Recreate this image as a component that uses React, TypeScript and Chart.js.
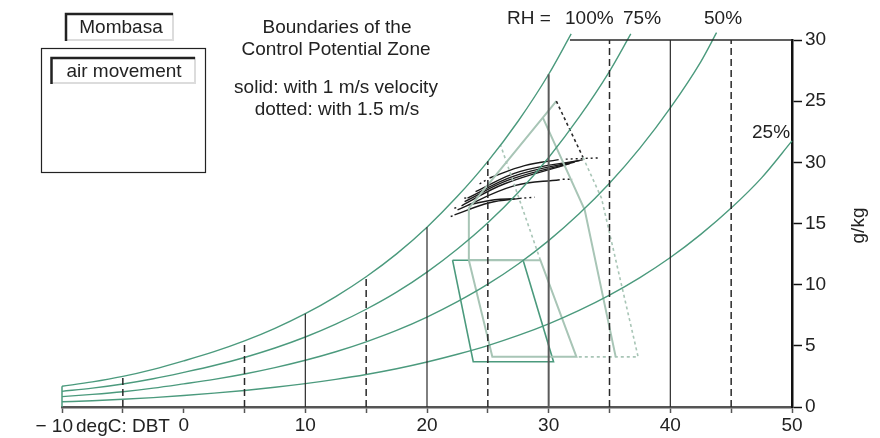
import React, { useEffect, useRef } from 'react';
import { Chart, registerables } from 'chart.js';

Chart.register(...registerables);

// ---------- data ----------
// Relative-humidity curves: [dry-bulb °C, moisture content g/kg]
const rh100 = [[-10, 1.7], [-7.5, 2.05], [-5, 2.5], [-2.5, 3.08], [0, 3.77], [2.5, 4.52], [5, 5.4], [7.5, 6.43], [10, 7.63], [12.5, 9.03], [15, 10.65], [17.5, 12.52], [20, 14.7], [22.5, 17.22], [25, 20.08], [27.5, 23.38], [30, 27.2], [31.85, 30.5]];
const rh75 = [[-10, 1.28], [-7.5, 1.54], [-5, 1.88], [-2.5, 2.31], [0, 2.83], [2.5, 3.39], [5, 4.05], [7.5, 4.82], [10, 5.72], [12.5, 6.77], [15, 7.99], [17.5, 9.39], [20, 11.03], [22.5, 12.92], [25, 15.06], [27.5, 17.54], [30, 20.4], [32.5, 23.69], [35, 27.44], [36.75, 30.5]];
const rh50 = [[-10, 0.85], [-7.5, 1.03], [-5, 1.25], [-2.5, 1.54], [0, 1.89], [2.5, 2.26], [5, 2.7], [7.5, 3.22], [10, 3.82], [12.5, 4.52], [15, 5.33], [17.5, 6.26], [20, 7.35], [22.5, 8.61], [25, 10.04], [27.5, 11.69], [30, 13.6], [32.5, 15.79], [35, 18.29], [37.5, 21.16], [40, 24.45], [42.5, 28.22], [43.8, 30.6]];
const rh25 = [[-10, 0.43], [-7.5, 0.51], [-5, 0.63], [-2.5, 0.77], [0, 0.94], [2.5, 1.13], [5, 1.35], [7.5, 1.61], [10, 1.91], [12.5, 2.26], [15, 2.66], [17.5, 3.13], [20, 3.68], [22.5, 4.31], [25, 5.02], [27.5, 5.85], [30, 6.8], [32.5, 7.9], [35, 9.15], [37.5, 10.58], [40, 12.22], [42.5, 14.11], [45, 16.26], [47.5, 18.73], [50, 21.75]];

// Dry-bulb grid lines and the moisture content where each one stops
const gridDbt = [-5, 5, 10, 15, 20, 25, 30, 35, 40, 45];
const gridTop = [2.5, 5.4, 7.63, 10.65, 14.7, 20.08, 27.2, 30, 30, 30];
const leftEdge = [[-10, 0], [-10, 1.7]];
const topBoundary = [[31.75, 30], [50, 30]];

// Zones
const stillAirZone = [[22.1, 12], [27.9, 12], [30.4, 3.7], [23.8, 3.7], [22.1, 12]];
const shiftedZone = [[23.44, 12], [29.32, 12], [32.28, 4.1], [25.37, 4.1], [23.44, 12]];
const zone1msLeft = [[23.44, 12], [23.44, 16.26], [30.63, 25.0]];
const zone1msRight = [[29.53, 23.64], [32.96, 16.12], [35.51, 4.1]];
const zone15msRight = [[32.82, 20.41], [34.34, 17.08], [37.35, 4.1], [32.28, 4.1]];
const zone15msLeft = [[29.32, 12], [26.05, 21.4]];
const zone15msTop = [[30.63, 25.0], [32.82, 20.41]];

// Mombasa monthly daily climate lines
const monthLines = [
  [[25.14, 18.72], [28.02, 19.73], [30.82, 20.22]],
  [[23.99, 17.6], [27.61, 19.24], [32.8, 20.2]],
  [[23.33, 17.08], [27.2, 18.9], [32.55, 20.14]],
  [[23.09, 16.78], [26.79, 18.58], [32.14, 20.02]],
  [[22.84, 16.45], [26.38, 18.25], [31.73, 19.89]],
  [[22.51, 16.12], [27.2, 18.09], [30.91, 18.58]],
  [[22.26, 15.71], [25.14, 16.7], [27.78, 17.07]],
  [[23.42, 16.53], [25.55, 16.94], [27.2, 17.02]],
];
const monthDots = [
  [[31.4, 20.26], [34.03, 20.36]],
  [[24.32, 18.23], [24.95, 18.6]],
  [[31.15, 18.62], [31.98, 18.62]],
  [[28.0, 17.08], [28.85, 17.15]],
  [[21.95, 15.57], [22.3, 15.7]],
  [[22.24, 16.26], [22.6, 16.31]],
  [[23.06, 17.08], [23.33, 17.08]],
];

// Text
const xTickValues = [-10, -5, 0, 5, 10, 15, 20, 25, 30, 35, 40, 45, 50];
const yTickLabels = ['0', '5', '10', '15', '30', '25', '30'];
const titleLines = ['Boundaries of the', 'Control Potential Zone'];
const noteLines = ['solid: with 1 m/s velocity', 'dotted: with 1.5 m/s'];
const rhLabels = ['RH =', '100%', '75%', '50%', '25%'];
const cityLabel = 'Mombasa';
const legendLabel = 'air movement';
const xUnitLabel = 'degC: DBT';
const yUnitLabel = 'g/kg';

// ---------- styling ----------
const FONT = '"Liberation Sans", Arial, Helvetica, sans-serif';
const TEAL = '#4b9a7d';
const LIGHT = '#a8c5b6';
const DARK = '#2a2a2a';

const toXY = (pts: number[][]) => pts.map(([x, y]) => ({ x, y }));
function line(pts: number[][], color: string, width: number, dash: number[] = [], extra: any = {}) {
  return {
    data: toXY(pts),
    showLine: true,
    borderColor: color,
    backgroundColor: color,
    borderWidth: width,
    borderDash: dash,
    pointRadius: 0,
    pointHoverRadius: 0,
    fill: false,
    tension: 0,
    clip: false,
    ...extra,
  };
}

function buildDatasets() {
  const ds: any[] = [];
  gridDbt.forEach((t, i) => {
    const solid = t % 10 === 0;
    const color = t === 30 ? '#5a5a5a' : DARK;
    const w = t === 30 ? 2 : solid ? 1.2 : 1.5;
    ds.push(line([[t, 0], [t, gridTop[i]]], color, w, solid ? [] : [7, 4]));
  });
  ds.push(line(topBoundary, DARK, 1.5));
  ds.push(line(leftEdge, TEAL, 1.5));
  [rh100, rh75, rh50, rh25].forEach((c) => ds.push(line(c, TEAL, 1.4, [], { cubicInterpolationMode: 'monotone' })));
  ds.push(line(zone15msRight, LIGHT, 1.6, [3, 3]));
  ds.push(line(zone15msLeft, LIGHT, 1.6, [3, 3]));
  ds.push(line(zone15msTop, DARK, 1.6, [3, 3]));
  ds.push(line(zone1msLeft, LIGHT, 2));
  ds.push(line(zone1msRight, LIGHT, 2));
  ds.push(line(shiftedZone, LIGHT, 2));
  ds.push(line(stillAirZone, TEAL, 1.6));
  monthLines.forEach((m) => ds.push(line(m, '#1a1a1a', 1.4, [], { tension: 0.4 })));
  monthDots.forEach((m) => ds.push(line(m, '#1a1a1a', 1.4, [2, 3])));
  return ds;
}

const annotations = {
  id: 'annotations',
  afterDraw(chart: any) {
    const ctx = chart.ctx as CanvasRenderingContext2D;
    const xs = chart.scales.x;
    const ys = chart.scales.y;
    ctx.save();
    ctx.fillStyle = '#222';
    ctx.font = `19px ${FONT}`;
    ctx.textBaseline = 'alphabetic';

    // title / notes
    ctx.textAlign = 'center';
    ctx.fillText(titleLines[0], 337, 33);
    ctx.fillText(titleLines[1], 336, 55);
    ctx.fillText(noteLines[0], 336, 93);
    ctx.fillText(noteLines[1], 337, 115);

    // RH labels
    ctx.textAlign = 'left';
    ctx.fillText(rhLabels[0], 507, 24);
    ctx.fillText(rhLabels[1], 565, 24);
    ctx.fillText(rhLabels[2], 623, 24);
    ctx.fillText(rhLabels[3], 704, 24);
    ctx.fillText(rhLabels[4], 752, 138);

    // Mombasa frame
    ctx.fillStyle = '#fff';
    ctx.fillRect(65, 13, 108, 27);
    ctx.strokeStyle = '#dcdcdc';
    ctx.lineWidth = 2;
    ctx.beginPath();
    ctx.moveTo(173, 13); ctx.lineTo(173, 40); ctx.lineTo(65, 40);
    ctx.stroke();
    ctx.strokeStyle = '#222';
    ctx.lineWidth = 2.5;
    ctx.beginPath();
    ctx.moveTo(66, 41); ctx.lineTo(66, 14); ctx.lineTo(173, 14);
    ctx.stroke();
    ctx.fillStyle = '#222';
    ctx.textAlign = 'center';
    ctx.fillText(cityLabel, 121, 33);

    // legend rectangle
    ctx.strokeStyle = '#222';
    ctx.lineWidth = 1.2;
    ctx.strokeRect(41.5, 48.5, 164, 124);
    ctx.strokeStyle = '#dcdcdc';
    ctx.lineWidth = 2;
    ctx.beginPath();
    ctx.moveTo(195, 57); ctx.lineTo(195, 83); ctx.lineTo(51, 83);
    ctx.stroke();
    ctx.strokeStyle = '#222';
    ctx.lineWidth = 2.5;
    ctx.beginPath();
    ctx.moveTo(51.5, 84); ctx.lineTo(51.5, 58); ctx.lineTo(195, 58);
    ctx.stroke();
    ctx.fillStyle = '#222';
    ctx.fillText(legendLabel, 124, 77);

    // x-axis extra labels
    const x0 = xs.getPixelForValue(-10);
    const yb = ys.getPixelForValue(0) + 25;
    ctx.textAlign = 'right';
    ctx.fillText('\u2212 10', x0 + 11, yb);
    ctx.textAlign = 'left';
    ctx.fillText(xUnitLabel, x0 + 14, yb);

    // y-axis title
    ctx.save();
    ctx.translate(864, (ys.getPixelForValue(0) + ys.getPixelForValue(30)) / 2 + 2);
    ctx.rotate(-Math.PI / 2);
    ctx.textAlign = 'center';
    ctx.fillText(yUnitLabel, 0, 0);
    ctx.restore();

    ctx.restore();
  },
};

export default function App() {
  const ref = useRef<HTMLCanvasElement>(null);
  useEffect(() => {
    const chart = new Chart(ref.current as HTMLCanvasElement, {
      type: 'scatter',
      data: { datasets: buildDatasets() },
      options: {
        animation: false,
        responsive: false,
        maintainAspectRatio: false,
        events: [],
        layout: { padding: { left: 62, top: 40, right: 0, bottom: 0 } },
        plugins: { legend: { display: false }, tooltip: { enabled: false } },
        scales: {
          x: {
            type: 'linear',
            position: 'bottom',
            min: -10,
            max: 50,
            afterBuildTicks: (s: any) => { s.ticks = xTickValues.map((v) => ({ value: v })); },
            afterFit: (s: any) => { s.height = 31; },
            grid: { display: true, drawOnChartArea: false, drawTicks: true, tickLength: 6, tickColor: '#555', tickWidth: 1.5 },
            border: { display: true, color: '#555', width: 2.5 },
            ticks: {
              autoSkip: false,
              maxRotation: 0,
              padding: 1,
              color: '#222',
              font: { family: FONT, size: 19 },
              callback: (v: any) => (Number(v) % 10 === 0 && Number(v) !== -10 ? String(v) : ''),
            },
          },
          y: {
            type: 'linear',
            position: 'right',
            min: 0,
            max: 30,
            afterBuildTicks: (s: any) => { s.ticks = yTickLabels.map((_, i) => ({ value: i * 5 })); },
            afterFit: (s: any) => { s.width = 88; },
            grid: { display: true, drawOnChartArea: false, drawTicks: true, tickLength: 10, tickColor: '#111', tickWidth: 1.5 },
            border: { display: true, color: '#111', width: 2.5 },
            ticks: {
              padding: 3,
              color: '#222',
              font: { family: FONT, size: 19 },
              callback: (_v: any, i: number) => yTickLabels[i],
            },
          },
        },
      },
      plugins: [annotations],
    } as any);
    return () => chart.destroy();
  }, []);
  return (
    <div style={{ position: 'absolute', left: 0, top: 0, width: 880, height: 438, background: '#fff' }}>
      <canvas ref={ref} width={880} height={438} style={{ width: 880, height: 438, display: 'block' }} />
    </div>
  );
}
